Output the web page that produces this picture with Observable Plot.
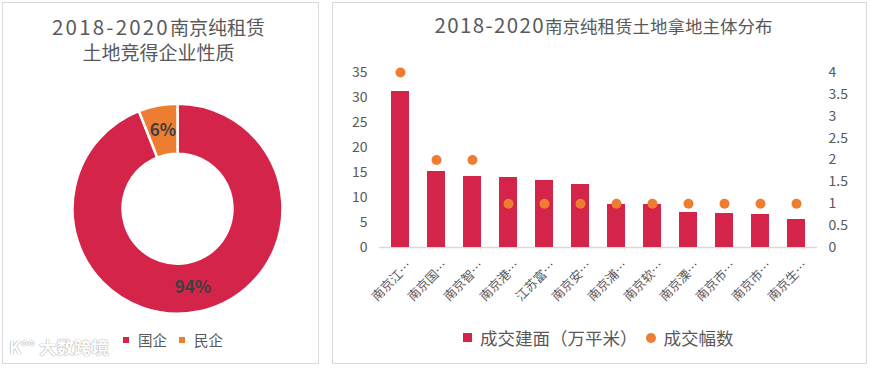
<!DOCTYPE html>
<html>
<head>
<meta charset="utf-8">
<script src="https://cdn.jsdelivr.net/npm/d3@7"></script>
<script src="https://cdn.jsdelivr.net/npm/@observablehq/plot@0.6"></script>
<style>
  html, body { margin: 0; padding: 0; background: #fff; }
  body { font-family: "Noto Sans CJK SC", sans-serif; color: #595959; }
  #wrap { position: relative; width: 870px; height: 368px; overflow: hidden; }
  .panel { position: absolute; box-sizing: border-box; border: 1px solid #d9d9d9; background: #fff; }
  #left { left: 2px; top: 2px; width: 317px; height: 362px; }
  #right { left: 332px; top: 2px; width: 535px; height: 362px; }
  .panel svg { position: absolute; left: 0; top: 0; }
  .title { position: absolute; left: 0; width: 100%; text-align: center; line-height: 24px; color: #595959; white-space: nowrap; }
  .title .num { font-size: 20.5px; letter-spacing: 1.4px; }
  #left .title { line-height: 25px; }
  #left .title .num { font-size: 20.5px; letter-spacing: 2.2px; }
  .legend { position: absolute; white-space: nowrap; color: #595959; display: flex; align-items: center; }
  .sw { display: inline-block; }
  .wm { position: absolute; left: 6px; top: 331px; font-size: 17.5px; color: #fff; font-weight: bold;
        text-shadow: 0 0 1px #9a9a9a, 0 0 1px #9a9a9a; }
</style>
</head>
<body>
<div id="wrap">
  <div class="panel" id="left">
    <div class="title" style="top:11px; font-size:19px; padding-right:4px; box-sizing:border-box;"><span class="num">2018-2020</span>南京纯租赁<br>土地竞得企业性质</div>
    <div class="legend" id="leftLegend" style="left:120px; top:326px; font-size:14.5px;"></div>
    <div class="wm">K°° 大数跨境</div>
  </div>
  <div class="panel" id="right">
    <div class="title" style="top:9px; font-size:17.5px; padding-left:8px; box-sizing:border-box;"><span class="num">2018-2020</span>南京纯租赁土地拿地主体分布</div>
    <div class="legend" id="rightLegend" style="left:130px; top:322px; font-size:17.5px;"></div>
  </div>
</div>
<script>
// ---- data ----
const xLabels = ["南京江…","南京国…","南京智…","南京港…","江苏富…","南京安…","南京浦…","南京软…","南京溧…","南京市…","南京市…","南京生…"];
const areaValues = [31.2, 15.2, 14.2, 14.0, 13.4, 12.6, 8.6, 8.6, 7.0, 6.8, 6.6, 5.6];
const dealCounts = [4, 2, 2, 1, 1, 1, 1, 1, 1, 1, 1, 1];
const leftTicks = [0, 5, 10, 15, 20, 25, 30, 35];
const rightTicks = [0, 0.5, 1, 1.5, 2, 2.5, 3, 3.5, 4];
const seriesNames = ["成交建面（万平米）", "成交幅数"];

const pieCategories = ["国企", "民企"];
const pieShares = [94, 6];
const pieLabels = ["94%", "6%"];

// ---- styles ----
const RED = "#D42449";
const ORANGE = "#ED7D31";
const TEXT = "#595959";
const RATIO = 35 / 4; // left max / right max

// ---- right chart ----
const idx = d3.range(xLabels.length);
const rows = idx.map(i => ({i, area: areaValues[i], count: dealCounts[i]}));

const rightChart = Plot.plot({
  width: 533,
  height: 359,
  marginLeft: 46,
  marginRight: 49,
  marginTop: 69,
  marginBottom: 115,
  style: {fontFamily: "'Noto Sans CJK SC', sans-serif", fontSize: "14px", color: TEXT, background: "transparent"},
  x: {type: "band", domain: idx, paddingInner: 0.5, paddingOuter: 0.25},
  y: {domain: [0, 35]},
  marks: [
    Plot.ruleY([0], {stroke: "#d9d9d9", strokeWidth: 1.5}),
    Plot.barY(rows, {x: "i", y: "area", fill: RED}),
    Plot.dot(rows, {x: "i", y: d => d.count * RATIO, r: 5, fill: ORANGE, stroke: null}),
    Plot.axisY({anchor: "left", ticks: leftTicks, tickSize: 0, tickPadding: 12, label: null, fontSize: 14, color: TEXT}),
    Plot.axisY({anchor: "right", ticks: rightTicks.map(v => v * RATIO),
      tickFormat: v => String(Math.round(v / RATIO * 10) / 10),
      tickSize: 0, tickPadding: 11, label: null, fontSize: 14, color: TEXT}),
    Plot.axisX({tickRotate: -45, tickSize: 0, tickPadding: 16, dx: 9,
      tickFormat: i => xLabels[i], label: null, fontSize: 12.5, color: TEXT})
  ]
});
document.getElementById("right").appendChild(rightChart);

// ---- left donut ----
const CX = 174.5, CY = 205.7;
const pieRows = pieCategories.map((c, i) => ({cat: c, share: pieShares[i], label: pieLabels[i]}));
const pieColor = d3.scaleOrdinal().domain(pieCategories).range([RED, ORANGE]);
const arcs = d3.pie().sort(null).value(d => d.share)(pieRows);
const arcGen = d3.arc().innerRadius(55).outerRadius(105);

const donut = Plot.plot({
  width: 315,
  height: 359,
  margin: 0,
  style: {fontFamily: "'Noto Sans CJK SC', sans-serif", background: "transparent"},
  x: {type: "identity", axis: null},
  y: {type: "identity", axis: null},
  marks: [
    () => {
      const g = d3.create("svg:g").attr("transform", `translate(${CX},${CY})`);
      g.selectAll("path").data(arcs).join("path")
        .attr("d", arcGen)
        .attr("fill", d => pieColor(d.data.cat))
        .attr("stroke", "#fff")
        .attr("stroke-width", 2.5);
      return g.node();
    },
    Plot.text(arcs, {
      x: d => CX + arcGen.centroid(d)[0],
      y: d => CY + arcGen.centroid(d)[1],
      text: d => d.data.label,
      fontSize: 17, fontWeight: "bold", fill: "#404040"
    })
  ]
});
document.getElementById("left").appendChild(donut);

// ---- legends ----
const ll = document.getElementById("leftLegend");
pieCategories.forEach((c, i) => {
  const sw = document.createElement("span");
  sw.className = "sw";
  sw.style.cssText = `width:6px;height:6px;background:${pieColor(c)};margin-right:9px;margin-left:${i ? 12 : 0}px;`;
  const t = document.createElement("span");
  t.textContent = c;
  ll.appendChild(sw); ll.appendChild(t);
});

const rl = document.getElementById("rightLegend");
seriesNames.forEach((s, i) => {
  const sw = document.createElement("span");
  sw.className = "sw";
  sw.style.cssText = i === 0
    ? `width:9px;height:9px;background:${RED};margin-right:8px;`
    : `width:10px;height:10px;border-radius:50%;background:${ORANGE};margin-right:8px;margin-left:8px;`;
  const t = document.createElement("span");
  t.textContent = s;
  rl.appendChild(sw); rl.appendChild(t);
});
</script>
</body>
</html>
